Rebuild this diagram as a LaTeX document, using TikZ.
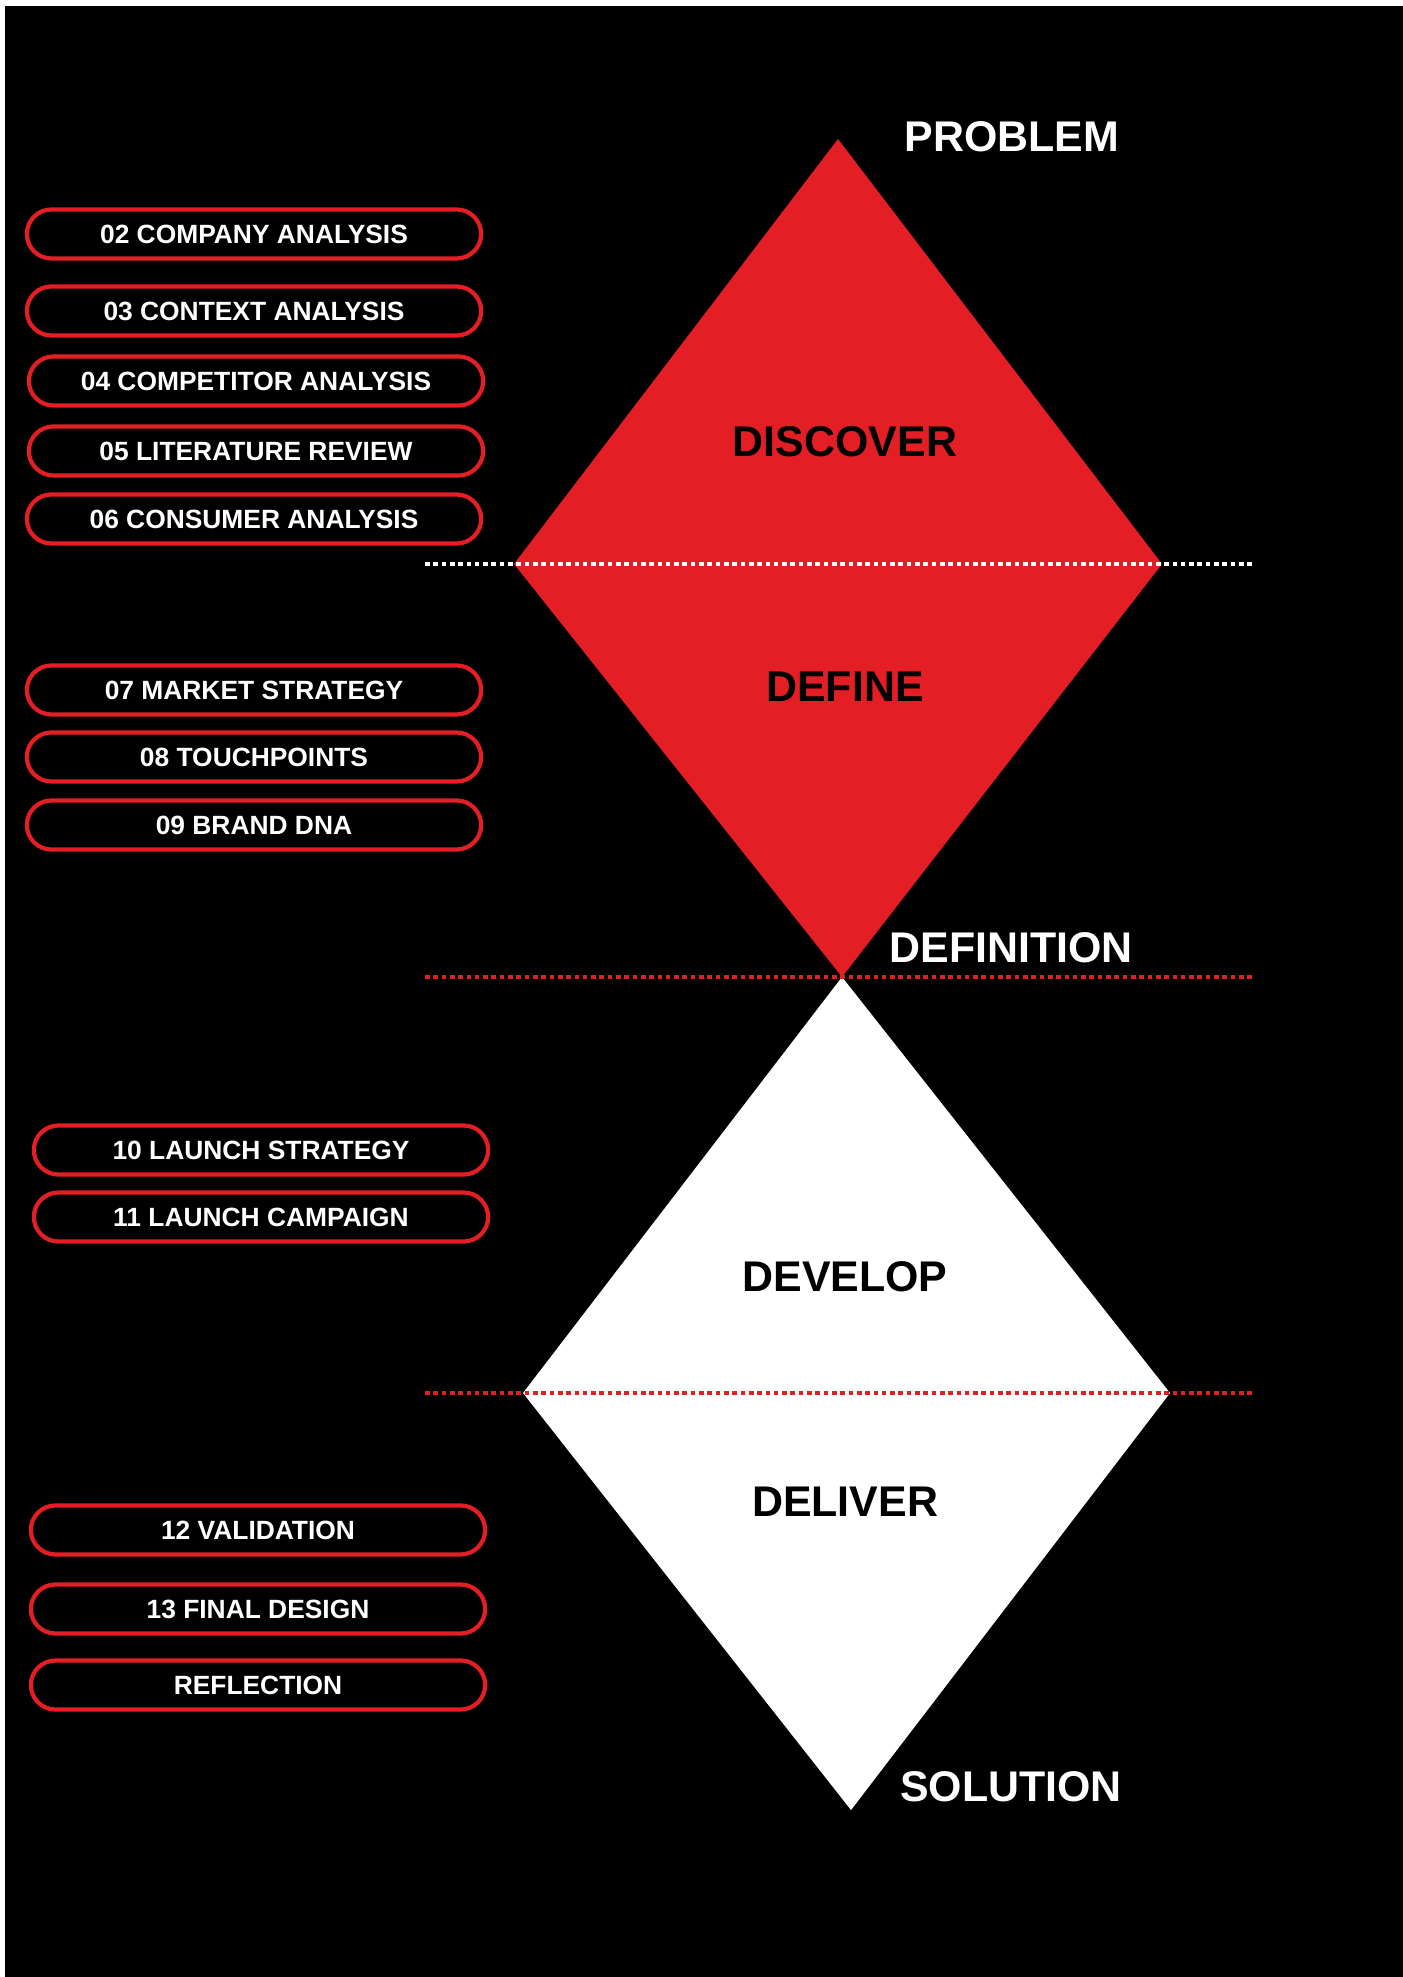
\documentclass[tikz,border=0pt]{standalone}
\usepackage{fontspec}
\setmainfont{Liberation Sans}
\definecolor{ddred}{RGB}{227,30,37}

\begin{document}
\begin{tikzpicture}[x=0.01cm,y=-0.01cm,
    pill/.style={draw=ddred,line width=1.2pt,rounded corners=0.245cm,
      minimum width=4.54cm,minimum height=0.49cm,inner sep=0pt,
      text=white,font=\fontsize{7.5}{9}\selectfont\bfseries},
    stage/.style={inner sep=0pt,font=\fontsize{12.2}{14}\selectfont\bfseries},
    guide/.style={line width=1.3pt,dash pattern=on 0.046cm off 0.037cm}]
  % page: thin white edge, black sheet
  \useasboundingbox (0,0) rectangle (1402,1977);
  \fill[white] (0,0) rectangle (1402,1977);
  \fill[black] (5,6) rectangle (1412,1987);

  % corners of the two diamonds
  \coordinate (rt) at (838,139);
  \coordinate (rl) at (514,564);
  \coordinate (rr) at (1162,564);
  \coordinate (rb) at (842,977);
  \coordinate (wl) at (523,1393);
  \coordinate (wr) at (1170,1393);
  \coordinate (wb) at (851,1810);
  \fill[ddred] (rt)--(rr)--(rb)--(rl)--cycle;
  \fill[white] (rb)--(wr)--(wb)--(wl)--cycle;

  % dotted dividers
  \coordinate (g1a) at (425,564);  \coordinate (g1b) at (1252,564);
  \coordinate (g2a) at (425,977);  \coordinate (g2b) at (1252,977);
  \coordinate (g3a) at (425,1393); \coordinate (g3b) at (1252,1393);
  \draw[guide,white] (g1a)--(g1b);
  \draw[guide,ddred] (g2a)--(g2b);
  \draw[guide,ddred] (g3a)--(g3b);

  % stage names
  \node[stage,text=white] (problem) at (1012,137) {PROBLEM};
  \node[stage,text=black] (discover) at (845,442) {DISCOVER};
  \node[stage,text=black] (define) at (845,687) {DEFINE};
  \node[stage,text=white] (definition) at (1011,948) {DEFINITION};
  \node[stage,text=black] (develop) at (845,1277) {DEVELOP};
  \node[stage,text=black] (deliver) at (845,1502) {DELIVER};
  \node[stage,text=white] (solution) at (1011,1787) {SOLUTION};

  % chapters
  \node[pill] (c02) at (254,234) {02 COMPANY ANALYSIS};
  \node[pill] (c03) at (254,311) {03 CONTEXT ANALYSIS};
  \node[pill] (c04) at (256,381) {04 COMPETITOR ANALYSIS};
  \node[pill] (c05) at (256,451) {05 LITERATURE REVIEW};
  \node[pill] (c06) at (254,519) {06 CONSUMER ANALYSIS};
  \node[pill] (c07) at (254,690) {07 MARKET STRATEGY};
  \node[pill] (c08) at (254,757) {08 TOUCHPOINTS};
  \node[pill] (c09) at (254,825) {09 BRAND DNA};
  \node[pill] (c10) at (261,1150) {10 LAUNCH STRATEGY};
  \node[pill] (c11) at (261,1217) {11 LAUNCH CAMPAIGN};
  \node[pill] (c12) at (258,1530) {12 VALIDATION};
  \node[pill] (c13) at (258,1609) {13 FINAL DESIGN};
  \node[pill] (c14) at (258,1685) {REFLECTION};
\end{tikzpicture}
\end{document}
